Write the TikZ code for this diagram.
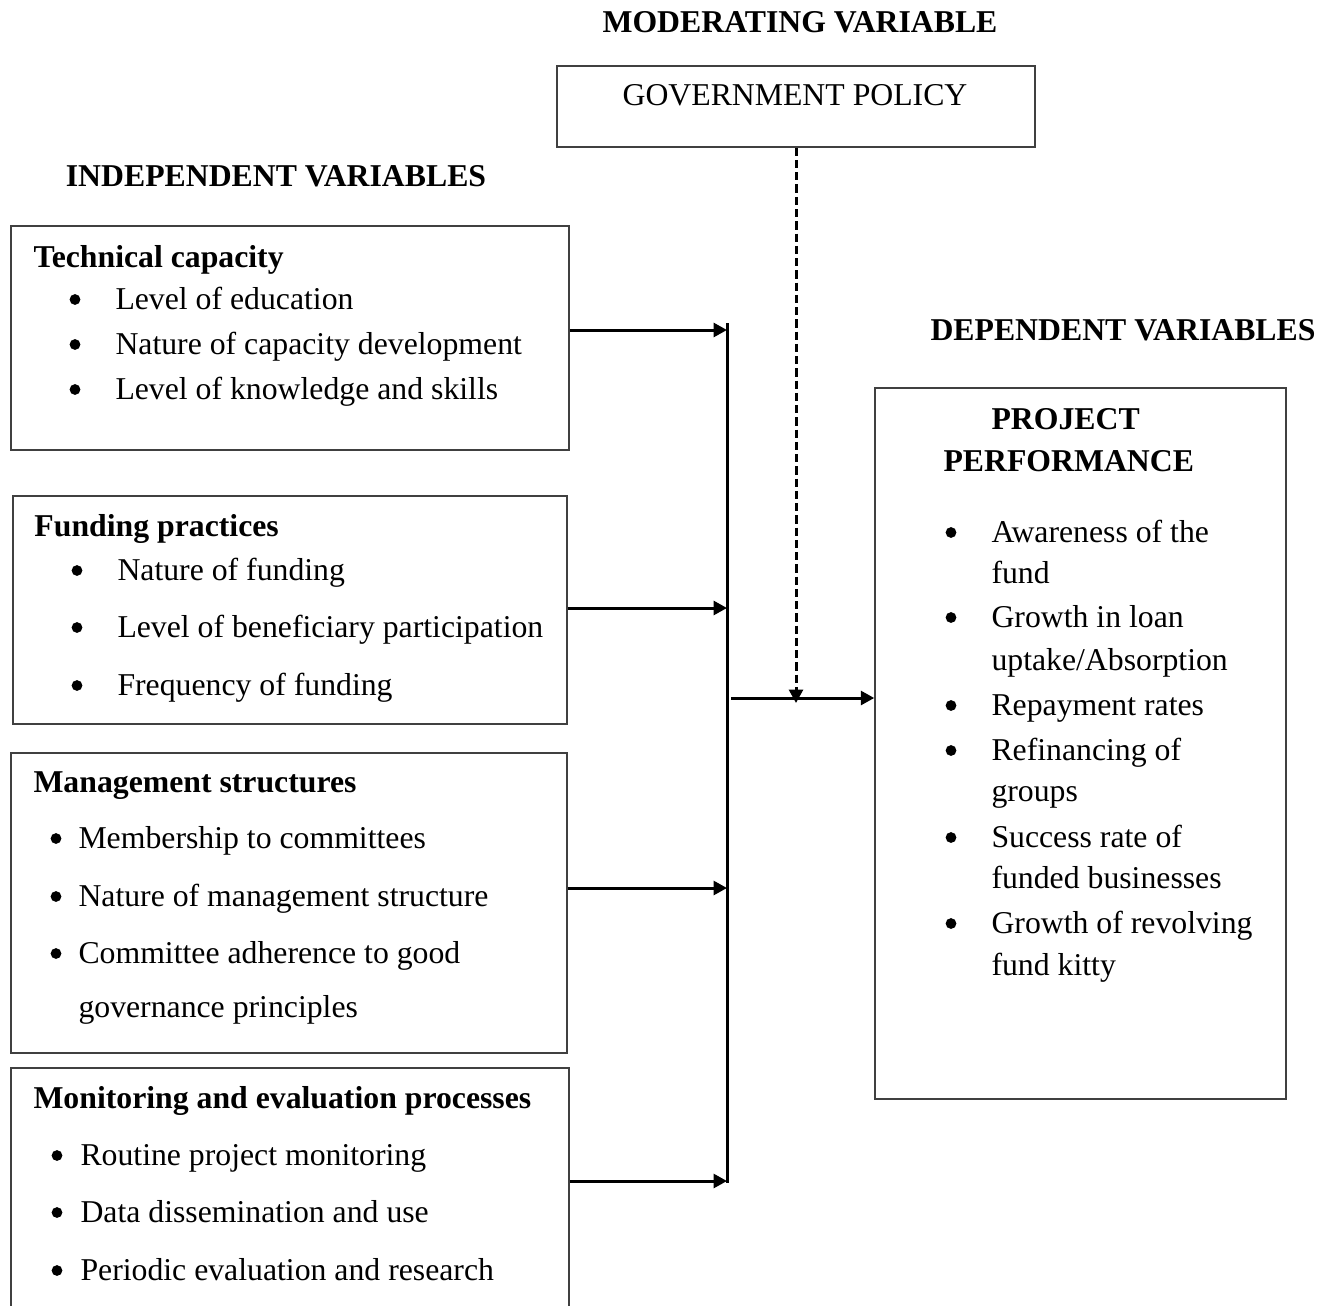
\documentclass[tikz,border=0pt]{standalone}
\usepackage{fontspec}
\setmainfont{Liberation Serif}
\usepackage{tikz}
\usetikzlibrary{arrows.meta}

\begin{document}
\begin{tikzpicture}[x=0.4pt, y=-0.4pt, line cap=butt, line join=miter,
    txt/.style={anchor=base west, inner sep=0pt, font=\fontsize{12.7}{15}\selectfont},
    ctxt/.style={txt, anchor=base},
    head/.style={ctxt, font=\fontsize{12.7}{15}\selectfont\bfseries},
    htxt/.style={txt, font=\fontsize{12.7}{15}\selectfont\bfseries},
    box/.style={draw=black!75, line width=0.6pt, inner sep=0pt},
    dot/.style={circle, fill=black, inner sep=0pt, minimum size=4.3pt},
    arr/.style={line width=1.2pt, -{Triangle[length=5.4pt, width=5.6pt]}},
    bus/.style={line width=1.2pt}]
                \useasboundingbox (0,0) rectangle (1337,1305);
                \clip (0,0) rectangle (1337,1305);

                % Headings
                \node[head] (modhead) at (800,33) {MODERATING VARIABLE};
                \node[head] (indhead) at (276,187) {INDEPENDENT VARIABLES};
                \node[head] (dephead) at (1123,340) {DEPENDENT VARIABLES};

                % Moderating variable
                \node[box, minimum width=191.2pt, minimum height=32.4pt] (gov) at (796,106.5) {};
                \node[ctxt] (govtxt) at (795,106) {GOVERNMENT POLICY};

                % Technical capacity
                \node[box, minimum width=223.2pt, minimum height=89.6pt] (tech) at (290,338) {};
                \node[htxt] (techhead) at (33,267) {Technical capacity};
                \foreach \yy/\txt [count=\i] in {309/Level of education, 354/Nature of capacity development, 399/Level of knowledge and skills}{
                    \node[dot] (tech-b\i) at (75,\yy-9.5) {};
                    \node[txt] (tech-\i) at (115,\yy) {\txt};
                }

                % Funding practices
                \node[box, minimum width=221.6pt, minimum height=91.2pt] (fund) at (290,610) {};
                \node[htxt] (fundhead) at (34,536) {Funding practices};
                \foreach \yy/\txt [count=\i] in {580/Nature of funding, 637/Level of beneficiary participation, 695/Frequency of funding}{
                    \node[dot] (fund-b\i) at (77,\yy-9.5) {};
                    \node[txt] (fund-\i) at (117,\yy) {\txt};
                }

                % Management structures
                \node[box, minimum width=222.4pt, minimum height=120pt] (mgmt) at (289,903) {};
                \node[htxt] (mgmthead) at (33,792) {Management structures};
                \foreach \yy/\txt [count=\i] in {848/Membership to committees, 906/Nature of management structure, 963/Committee adherence to good}{
                    \node[dot] (mgmt-b\i) at (56,\yy-9.5) {};
                    \node[txt] (mgmt-\i) at (78,\yy) {\txt};
                }
                \node[txt] (mgmt-4) at (78,1017) {governance principles};

                % Monitoring and evaluation
                \node[box, minimum width=223.2pt, minimum height=108.8pt] (mne) at (290,1204) {};
                \node[htxt] (mnehead) at (33,1108) {Monitoring and evaluation processes};
                \foreach \yy/\txt [count=\i] in {1165/Routine project monitoring, 1222/Data dissemination and use, 1280/Periodic evaluation and research}{
                    \node[dot] (mne-b\i) at (57,\yy-9.5) {};
                    \node[txt] (mne-\i) at (80,\yy) {\txt};
                }

                % Project performance
                \node[box, minimum width=164.4pt, minimum height=284.4pt] (perf) at (1080.5,743.5) {};
                \node[htxt] (perfhead1) at (991,429) {PROJECT};
                \node[htxt] (perfhead2) at (943,471) {PERFORMANCE};
                \foreach \yy/\txt [count=\i] in {542/Awareness of the, 583/fund, 627/Growth in loan, 670/uptake\slash Absorption, 715/Repayment rates, 760/Refinancing of, 801/groups, 847/Success rate of, 888/funded businesses, 933/Growth of revolving, 975/fund kitty}
                    \node[txt] (perf-\i) at (991,\yy) {\txt};
                \foreach \yy [count=\i] in {542,627,715,760,847,933}
                    \node[dot] (perf-b\i) at (951,\yy-9.5) {};

                % Arrows into the bus line
                \coordinate (bustop) at (727,323);
                \coordinate (busbot) at (727,1183);
                \draw[bus] (bustop) -- (busbot);
                \foreach \src/\yy in {tech/330, fund/608, mgmt/888, mne/1181}{
                    \coordinate (\src-in) at (727,\yy);
                    \draw[arr] (\src.east |- \src-in) -- (\src-in);
                }

                % Arrow to the dependent variable
                \coordinate (out) at (731,698);
                \draw[arr] (out) -- (perf.west |- out);

                % Moderating arrow
                \coordinate (mod) at (796,703);
                \draw[arr, dash pattern=on 3.3pt off 1.6pt] (gov.south) -- (mod);

\end{tikzpicture}
\end{document}
